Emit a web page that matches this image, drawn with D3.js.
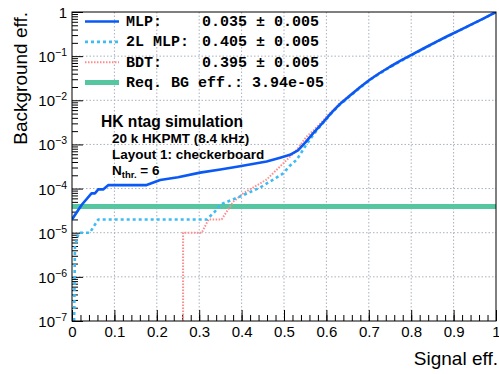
<!DOCTYPE html>
<html>
<head>
<meta charset="utf-8">
<script src="https://cdn.jsdelivr.net/npm/d3@7"></script>
<style>
  body { margin: 0; background: #fff; }
  svg { display: block; }
</style>
</head>
<body>
<div id="main"></div>
<script>
const ctx = {
    W: 499,
    H: 374,
    left: 72,
    right: 496,
    top: 12,
    bottom: 321,
};

// MLP curve (signal eff. vs background eff.)
const mlpSig = [0, 0.023, 0.046, 0.054, 0.062, 0.074, 0.086, 0.144, 0.176, 0.208, 0.25, 0.302, 0.35, 0.396,
    0.459, 0.491, 0.514, 0.533, 0.55, 0.569, 0.59, 0.61, 0.63, 0.655, 0.68, 0.703, 0.725, 0.75, 0.775,
    0.805, 0.83, 0.86, 0.885, 0.915, 0.94, 0.97, 1];
const mlpBkg = [2.0e-5, 4.3e-5, 7.8e-5, 7.8e-5, 9.6e-5, 9.6e-5, 1.2e-4, 1.2e-4, 1.2e-4, 1.56e-4, 1.8e-4, 2.3e-4, 2.7e-4, 3.2e-4,
    4.1e-4, 5.0e-4, 5.8e-4, 7.3e-4, 1.1e-3, 1.8e-3, 3.0e-3, 5.0e-3, 7.9e-3, 1.26e-2, 2.0e-2, 2.95e-2, 4.1e-2, 5.75e-2, 7.9e-2,
    0.112, 0.151, 0.214, 0.282, 0.39, 0.513, 0.708, 1];

// 2-layer MLP curve
const mlp2Sig = [0.005, 0.007, 0.016, 0.042, 0.062, 0.318, 0.337, 0.349, 0.404, 0.443, 0.475, 0.498, 0.514, 0.530,
    0.553, 0.57, 0.59, 0.61, 0.63, 0.655, 0.68, 0.703, 0.725, 0.75, 0.775, 0.805, 0.83, 0.86, 0.885, 0.915, 0.94, 0.97, 1];
const mlp2Bkg = [1e-7, 5e-6, 1e-5, 1e-5, 2e-5, 2e-5, 3e-5, 4.3e-5, 7.1e-5, 1.05e-4, 1.6e-4, 2.2e-4, 3.3e-4, 4.5e-4,
    1.0e-3, 1.7e-3, 2.9e-3, 4.85e-3, 7.7e-3, 1.23e-2, 1.95e-2, 2.9e-2, 4.0e-2, 5.6e-2, 7.7e-2, 0.11, 0.148, 0.21, 0.278, 0.385, 0.508, 0.705, 1];

// BDT curve
const bdtSig = [0.262, 0.262, 0.306, 0.322, 0.353, 0.380, 0.404, 0.443, 0.459, 0.498, 0.53, 0.553, 0.57, 0.59, 0.61,
    0.63, 0.655, 0.68, 0.703, 0.725, 0.75, 0.775, 0.805, 0.83, 0.86, 0.885, 0.915, 0.94, 0.97, 1];
const bdtBkg = [1e-7, 1e-5, 1e-5, 2e-5, 2e-5, 5e-5, 7.8e-5, 1.3e-4, 1.6e-4, 3.7e-4, 7.5e-4, 1.5e-3, 2.1e-3, 3.3e-3, 5.3e-3,
    8.3e-3, 1.3e-2, 2.05e-2, 3.0e-2, 4.2e-2, 5.85e-2, 8.0e-2, 0.113, 0.153, 0.216, 0.284, 0.392, 0.515, 0.71, 1];

const reqBkg = 3.94e-5;

const legendNames = ["MLP:", "2L MLP:", "BDT:"];
const legendValues = ["0.035 \u00b1 0.005", "0.405 \u00b1 0.005", "0.395 \u00b1 0.005"];
const reqLabel = "Req. BG eff.: 3.94e-05";

const xTicks = [0, 0.1, 0.2, 0.3, 0.4, 0.5, 0.6, 0.7, 0.8, 0.9, 1];
const xTickLabels = ["0", "0.1", "0.2", "0.3", "0.4", "0.5", "0.6", "0.7", "0.8", "0.9", "1"];
const yDecades = [-7, -6, -5, -4, -3, -2, -1, 0];

const annot = ["20 k HKPMT (8.4 kHz)", "Layout 1: checkerboard"];

const series = [
    { sig: mlpSig, bkg: mlpBkg, color: "#0a58f5", width: 2.6, dash: null },
    { sig: mlp2Sig, bkg: mlp2Bkg, color: "#3dbbf5", width: 2.6, dash: "3,3" },
    { sig: bdtSig, bkg: bdtBkg, color: "#ff8c8c", width: 2, dash: "1.5,1.5" },
];

function createViz() {
    let svg = d3.select("#main").append("svg")
        .attr("width", ctx.W)
        .attr("height", ctx.H);

    let x = d3.scaleLinear().domain([0, 1]).range([ctx.left, ctx.right]);
    let y = d3.scaleLog().domain([1e-7, 1]).range([ctx.bottom, ctx.top]);

    svg.append("clipPath").attr("id", "clip")
        .append("rect")
        .attr("x", ctx.left).attr("y", ctx.top)
        .attr("width", ctx.right - ctx.left)
        .attr("height", ctx.bottom - ctx.top);

    // grid
    let grid = svg.append("g")
        .style("stroke", "#a9b0bd")
        .style("stroke-width", 1)
        .style("stroke-dasharray", "1.5,2");
    grid.selectAll("line.gx")
        .data(xTicks.slice(1, -1))
        .enter().append("line")
        .attr("x1", d => x(d)).attr("x2", d => x(d))
        .attr("y1", ctx.top).attr("y2", ctx.bottom);
    grid.selectAll("line.gy")
        .data(yDecades.slice(1, -1))
        .enter().append("line")
        .attr("x1", ctx.left).attr("x2", ctx.right)
        .attr("y1", d => y(Math.pow(10, d))).attr("y2", d => y(Math.pow(10, d)));

    // x axis ticks (inward)
    let xMinor = d3.range(0, 51).map(i => i / 50);
    svg.append("g")
        .attr("transform", `translate(0,${ctx.bottom})`)
        .call(d3.axisBottom(x).tickValues(xMinor).tickSize(-6).tickFormat(""))
        .call(g => g.select(".domain").remove());
    svg.append("g")
        .attr("transform", `translate(0,${ctx.bottom})`)
        .call(d3.axisBottom(x).tickValues(xTicks).tickSize(-11).tickFormat((d, i) => xTickLabels[i]))
        .call(g => g.select(".domain").remove())
        .call(g => g.selectAll("text")
            .attr("dy", 0)
            .attr("y", 16)
            .style("font-family", "'Liberation Sans', Arial, sans-serif")
            .style("font-size", "15px")
            .style("fill", "#000"));

    // y axis ticks
    let yMinor = [];
    yDecades.slice(0, -1).forEach(e => {
        for (let k = 2; k <= 9; k++) yMinor.push(k * Math.pow(10, e));
    });
    svg.append("g")
        .attr("transform", `translate(${ctx.left},0)`)
        .call(d3.axisLeft(y).tickValues(yMinor).tickSize(-6).tickFormat(""))
        .call(g => g.select(".domain").remove());
    svg.append("g")
        .attr("transform", `translate(${ctx.left},0)`)
        .call(d3.axisLeft(y).tickValues(yDecades.map(e => Math.pow(10, e))).tickSize(-11).tickFormat(""))
        .call(g => g.select(".domain").remove());

    let yl = svg.append("g")
        .style("font-family", "'Liberation Sans', Arial, sans-serif")
        .style("fill", "#000");
    yDecades.forEach(e => {
        let t = yl.append("text")
            .attr("x", ctx.left - 5)
            .attr("y", y(Math.pow(10, e)) + 6)
            .attr("text-anchor", "end")
            .style("font-size", "15px");
        if (e === 0) {
            t.text("1");
        } else {
            t.append("tspan").text("10");
            t.append("tspan").attr("dy", -6).style("font-size", "10.5px").text("\u2212" + (-e));
        }
    });

    // curves
    let plot = svg.append("g").attr("clip-path", "url(#clip)");

    plot.append("line")
        .attr("x1", x(0)).attr("x2", x(1))
        .attr("y1", y(reqBkg)).attr("y2", y(reqBkg))
        .style("stroke", "#55c6a0")
        .style("stroke-width", 5);

    let line = d3.line().x(d => x(d[0])).y(d => y(d[1]));
    series.slice().reverse().forEach(s => {
        plot.append("path")
            .attr("d", line(d3.zip(s.sig, s.bkg)))
            .style("fill", "none")
            .style("stroke", s.color)
            .style("stroke-width", s.width)
            .style("stroke-linejoin", "round")
            .style("stroke-dasharray", s.dash);
    });

    // frame
    svg.append("rect")
        .attr("x", ctx.left).attr("y", ctx.top)
        .attr("width", ctx.right - ctx.left)
        .attr("height", ctx.bottom - ctx.top)
        .style("fill", "none")
        .style("stroke", "#000")
        .style("stroke-width", 1);

    // legend
    let leg = svg.append("g")
        .style("font-family", "'Liberation Mono', 'DejaVu Sans Mono', monospace")
        .style("font-weight", "bold")
        .style("font-size", "15px")
        .style("fill", "#000");
    series.forEach((s, i) => {
        let yy = 26 + i * 20.4;
        leg.append("line")
            .attr("x1", 85).attr("x2", 119)
            .attr("y1", yy - 4.5).attr("y2", yy - 4.5)
            .style("stroke", s.color)
            .style("stroke-width", s.width)
            .style("stroke-dasharray", s.dash);
        leg.append("text").attr("x", 126).attr("y", yy).text(legendNames[i]);
        leg.append("text").attr("x", 202).attr("y", yy).text(legendValues[i]);
    });
    leg.append("line")
        .attr("x1", 85).attr("x2", 119)
        .attr("y1", 87 - 4.5).attr("y2", 87 - 4.5)
        .style("stroke", "#55c6a0")
        .style("stroke-width", 5);
    leg.append("text").attr("x", 126).attr("y", 87).text(reqLabel);

    // annotation
    let ann = svg.append("g")
        .style("font-family", "'Liberation Sans', Arial, sans-serif")
        .style("font-weight", "bold")
        .style("fill", "#000");
    ann.append("text").attr("x", 101).attr("y", 127)
        .style("font-size", "15.6px").text("HK ntag simulation");
    annot.forEach((a, i) => {
        ann.append("text").attr("x", 112).attr("y", 143 + i * 16)
            .style("font-size", "13.5px").text(a);
    });
    let nt = ann.append("text").attr("x", 112).attr("y", 175).style("font-size", "13.5px");
    nt.append("tspan").text("N");
    nt.append("tspan").attr("dy", 3).style("font-size", "9.5px").text("thr.");
    nt.append("tspan").attr("dy", -3).text(" = 6");

    // axis titles
    svg.append("text")
        .attr("x", 498).attr("y", 365)
        .attr("text-anchor", "end")
        .style("font-family", "'Liberation Sans', Arial, sans-serif")
        .style("font-size", "19px")
        .text("Signal eff.");
    svg.append("text")
        .attr("transform", `translate(27,12) rotate(-90)`)
        .attr("text-anchor", "end")
        .style("font-family", "'Liberation Sans', Arial, sans-serif")
        .style("font-size", "19px")
        .text("Background eff.");
}

createViz();
</script>
</body>
</html>
